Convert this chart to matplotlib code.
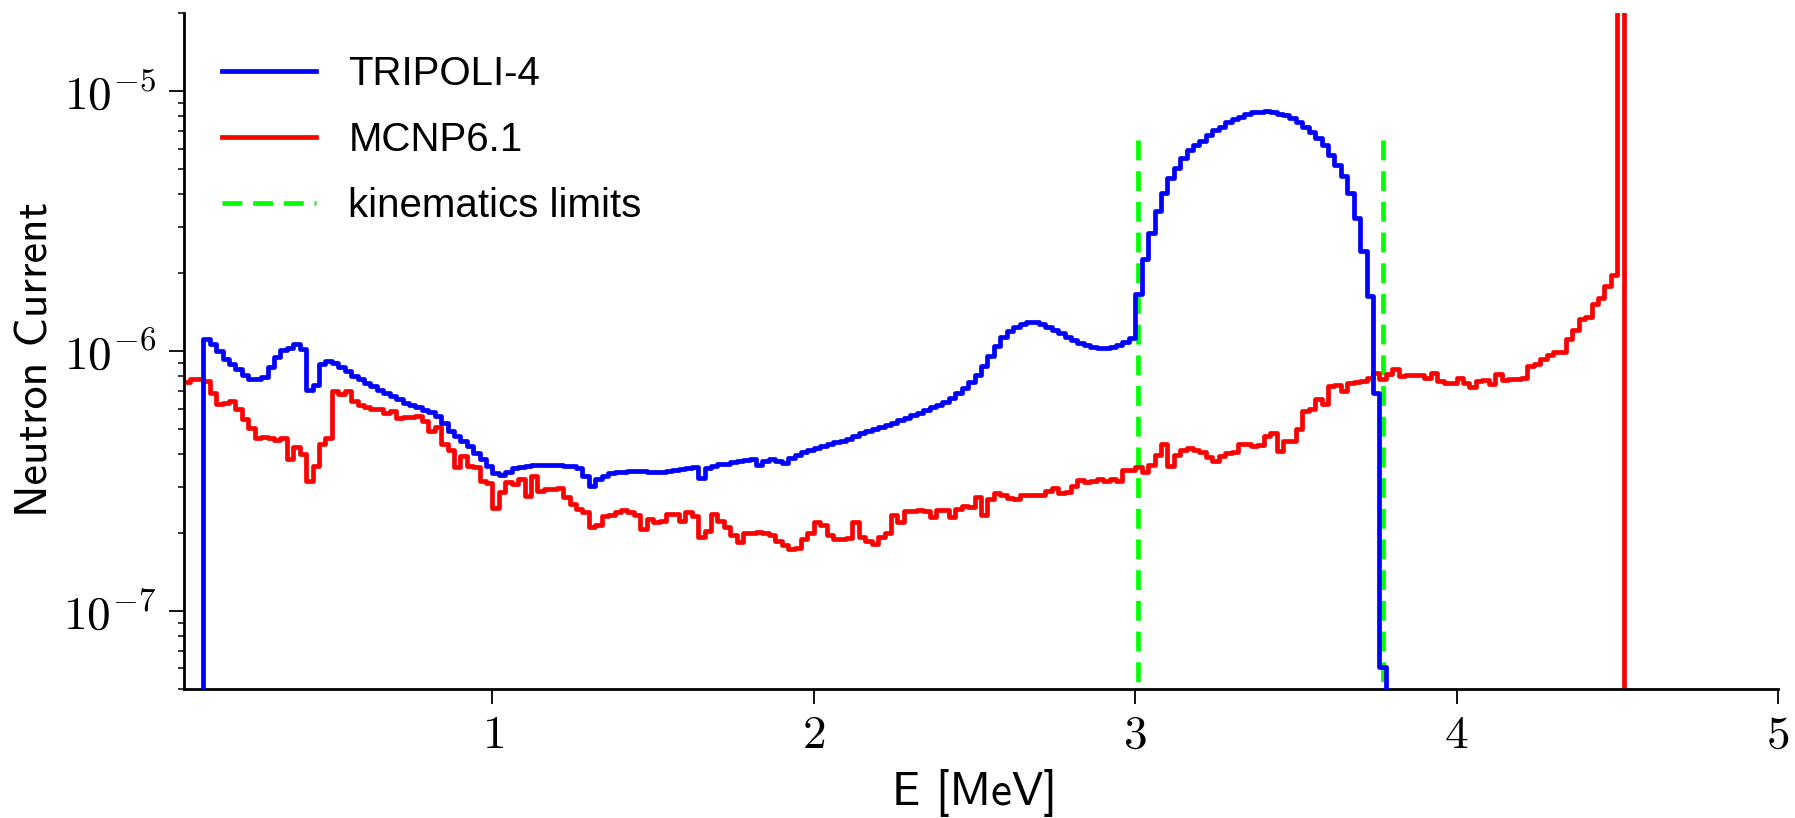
import numpy as np
import matplotlib.pyplot as plt
from matplotlib.ticker import FuncFormatter, LogLocator, NullFormatter

# Bin width of both tallies (MeV)
bin_width = 0.02

# TRIPOLI-4 neutron current, bins starting at 0.10 MeV (10 bins per row)
tripoli_start = 0.10
tripoli = [
    1.11e-6, 1.06e-6, 1.00e-6, 9.3e-7, 8.9e-7, 8.5e-7, 8.1e-7, 7.8e-7, 7.8e-7, 7.9e-7,
    8.7e-7, 9.5e-7, 1.01e-6, 1.03e-6, 1.06e-6, 1.02e-6, 7.1e-7, 7.4e-7, 8.9e-7, 9.1e-7,
    9.0e-7, 8.7e-7, 8.4e-7, 8.0e-7, 7.8e-7, 7.5e-7, 7.3e-7, 7.1e-7, 6.9e-7, 6.7e-7,
    6.5e-7, 6.3e-7, 6.2e-7, 6.1e-7, 5.9e-7, 5.8e-7, 5.6e-7, 5.3e-7, 4.9e-7, 4.7e-7,
    4.5e-7, 4.3e-7, 4.06e-7, 3.83e-7, 3.6e-7, 3.4e-7, 3.33e-7, 3.43e-7, 3.53e-7, 3.56e-7,
    3.6e-7, 3.63e-7, 3.63e-7, 3.63e-7, 3.63e-7, 3.63e-7, 3.6e-7, 3.6e-7, 3.55e-7, 3.3e-7,
    3.03e-7, 3.21e-7, 3.3e-7, 3.38e-7, 3.41e-7, 3.43e-7, 3.44e-7, 3.44e-7, 3.46e-7, 3.43e-7,
    3.41e-7, 3.41e-7, 3.46e-7, 3.49e-7, 3.51e-7, 3.54e-7, 3.56e-7, 3.24e-7, 3.54e-7, 3.6e-7,
    3.66e-7, 3.68e-7, 3.72e-7, 3.76e-7, 3.8e-7, 3.84e-7, 3.63e-7, 3.77e-7, 3.82e-7, 3.78e-7,
    3.7e-7, 3.86e-7, 3.98e-7, 4.08e-7, 4.16e-7, 4.24e-7, 4.31e-7, 4.37e-7, 4.44e-7, 4.51e-7,
    4.58e-7, 4.71e-7, 4.82e-7, 4.91e-7, 4.99e-7, 5.10e-7, 5.19e-7, 5.30e-7, 5.42e-7, 5.54e-7,
    5.67e-7, 5.79e-7, 5.93e-7, 6.07e-7, 6.21e-7, 6.38e-7, 6.59e-7, 6.91e-7, 7.22e-7, 7.59e-7,
    8.05e-7, 8.74e-7, 9.55e-7, 1.044e-6, 1.13e-6, 1.195e-6, 1.238e-6, 1.27e-6, 1.29e-6, 1.286e-6,
    1.268e-6, 1.238e-6, 1.202e-6, 1.167e-6, 1.13e-6, 1.097e-6, 1.072e-6, 1.05e-6, 1.034e-6, 1.028e-6,
    1.028e-6, 1.034e-6, 1.05e-6, 1.081e-6, 1.123e-6, 1.65e-6, 2.25e-6, 2.84e-6, 3.44e-6, 4.05e-6,
    4.62e-6, 5.05e-6, 5.51e-6, 5.94e-6, 6.20e-6, 6.40e-6, 6.78e-6, 7.08e-6, 7.29e-6, 7.56e-6,
    7.78e-6, 7.97e-6, 8.16e-6, 8.28e-6, 8.33e-6, 8.35e-6, 8.33e-6, 8.14e-6, 8.10e-6, 7.85e-6,
    7.62e-6, 7.29e-6, 6.98e-6, 6.58e-6, 6.20e-6, 5.68e-6, 5.20e-6, 4.69e-6, 4.05e-6, 3.24e-6,
    2.42e-6, 1.62e-6, 6.9e-7, 6.1e-8,
]

# MCNP6.1 neutron current, bins starting at 0.00 MeV (10 bins per row)
mcnp_start = 0.0
mcnp = [
    7.6e-7, 7.6e-7, 7.59e-7, 7.77e-7, 7.82e-7, 7.65e-7, 6.91e-7, 6.23e-7, 6.28e-7, 6.40e-7,
    5.95e-7, 5.46e-7, 5.06e-7, 4.64e-7, 4.67e-7, 4.60e-7, 4.55e-7, 4.60e-7, 3.83e-7, 4.25e-7,
    4.00e-7, 3.16e-7, 3.61e-7, 4.37e-7, 4.60e-7, 7.01e-7, 6.81e-7, 7.01e-7, 6.42e-7, 6.20e-7,
    6.10e-7, 6.00e-7, 5.95e-7, 5.79e-7, 5.87e-7, 5.54e-7, 5.57e-7, 5.58e-7, 5.62e-7, 5.38e-7,
    4.90e-7, 5.10e-7, 4.37e-7, 4.15e-7, 3.56e-7, 3.95e-7, 3.61e-7, 3.56e-7, 3.16e-7, 3.10e-7,
    2.48e-7, 2.86e-7, 3.12e-7, 3.07e-7, 3.21e-7, 2.77e-7, 3.31e-7, 2.90e-7, 2.94e-7, 2.95e-7,
    2.98e-7, 2.73e-7, 2.57e-7, 2.46e-7, 2.39e-7, 2.10e-7, 2.13e-7, 2.32e-7, 2.33e-7, 2.39e-7,
    2.44e-7, 2.40e-7, 2.33e-7, 2.06e-7, 2.25e-7, 2.19e-7, 2.22e-7, 2.36e-7, 2.36e-7, 2.22e-7,
    2.39e-7, 2.32e-7, 1.92e-7, 2.03e-7, 2.36e-7, 2.22e-7, 2.10e-7, 1.95e-7, 1.84e-7, 1.99e-7,
    2.00e-7, 2.01e-7, 1.99e-7, 1.95e-7, 1.86e-7, 1.79e-7, 1.73e-7, 1.75e-7, 1.89e-7, 2.00e-7,
    2.20e-7, 2.13e-7, 1.95e-7, 1.89e-7, 1.88e-7, 1.90e-7, 2.20e-7, 1.92e-7, 1.86e-7, 1.80e-7,
    1.92e-7, 2.00e-7, 2.33e-7, 2.19e-7, 2.43e-7, 2.43e-7, 2.44e-7, 2.43e-7, 2.29e-7, 2.44e-7,
    2.44e-7, 2.30e-7, 2.46e-7, 2.54e-7, 2.50e-7, 2.73e-7, 2.34e-7, 2.69e-7, 2.85e-7, 2.78e-7,
    2.71e-7, 2.69e-7, 2.78e-7, 2.79e-7, 2.79e-7, 2.78e-7, 2.89e-7, 2.96e-7, 2.85e-7, 2.86e-7,
    3.03e-7, 3.19e-7, 3.14e-7, 3.16e-7, 3.21e-7, 3.16e-7, 3.21e-7, 3.16e-7, 3.49e-7, 3.49e-7,
    3.58e-7, 3.42e-7, 3.65e-7, 3.97e-7, 4.38e-7, 3.62e-7, 3.99e-7, 4.15e-7, 4.21e-7, 4.15e-7,
    4.08e-7, 3.89e-7, 3.78e-7, 3.95e-7, 4.06e-7, 4.08e-7, 4.38e-7, 4.38e-7, 4.31e-7, 4.34e-7,
    4.71e-7, 4.85e-7, 4.12e-7, 4.51e-7, 4.51e-7, 5.00e-7, 5.87e-7, 5.98e-7, 6.52e-7, 6.23e-7,
    7.33e-7, 7.36e-7, 7.01e-7, 7.55e-7, 7.60e-7, 7.66e-7, 7.89e-7, 8.25e-7, 7.77e-7, 8.13e-7,
    8.49e-7, 8.00e-7, 8.05e-7, 8.05e-7, 8.05e-7, 7.89e-7, 8.20e-7, 7.66e-7, 7.50e-7, 7.50e-7,
    7.89e-7, 7.55e-7, 7.29e-7, 7.66e-7, 7.73e-7, 7.44e-7, 8.13e-7, 7.73e-7, 7.77e-7, 7.77e-7,
    7.89e-7, 8.75e-7, 8.88e-7, 9.28e-7, 9.61e-7, 9.90e-7, 9.90e-7, 1.106e-6, 1.20e-6, 1.33e-6,
    1.35e-6, 1.51e-6, 1.60e-6, 1.77e-6, 1.95e-6, 1.0e-4,
]

# Kinematics limits (MeV) and the height of the dashed markers
kin_limits = [3.008, 3.771]
kin_top = 6.5e-6


def histogram_line(start, values):
    # edges + zero padding so the step drops to the axis at both ends
    edges = start + bin_width * np.arange(len(values) + 1)
    x = np.concatenate([[edges[0]], edges])
    y = np.concatenate([[0.0], values, [0.0]])
    return x, y


plt.rcParams["mathtext.fontset"] = "cm"
lw = 3.4

fig = plt.figure(figsize=(17.95, 8.18), dpi=100)
ax = fig.add_axes([0.1025, 0.1577, 0.888, 0.8268])

green = None
for e in kin_limits:
    (green,) = ax.plot([e, e], [kin_top, 5e-8], color="#00ff00", lw=lw,
                       dashes=(4.2, 2.3), zorder=1)
x, y = histogram_line(mcnp_start, mcnp)
(red,) = ax.step(x, y, where="post", color="#ff0000", lw=lw, zorder=2)
x, y = histogram_line(tripoli_start, tripoli)
(blue,) = ax.step(x, y, where="post", color="#0000ff", lw=lw, zorder=3)

ax.set_yscale("log")
ax.set_xlim(0.04, 5)
ax.set_ylim(5e-8, 2e-5)

# Axes styling
for side in ["top", "right"]:
    ax.spines[side].set_visible(False)
for side in ["left", "bottom"]:
    ax.spines[side].set_linewidth(2.0)

ax.set_xticks([1, 2, 3, 4, 5])
ax.xaxis.set_major_formatter(FuncFormatter(lambda v, p: f"${v:g}$"))
ax.yaxis.set_major_locator(LogLocator(base=10, numticks=10))
ax.yaxis.set_major_formatter(
    FuncFormatter(lambda v, p: f"$10^{{{int(round(np.log10(v)))}}}$"))
ax.yaxis.set_minor_formatter(NullFormatter())
ax.tick_params(axis="both", which="major", direction="out", length=11,
               width=1.3, labelsize=34)
ax.tick_params(axis="x", which="major", pad=6)
ax.tick_params(axis="y", which="major", pad=9)
ax.tick_params(axis="y", which="minor", direction="out", length=4.5, width=1.1)

ax.set_xlabel("E [MeV]", family="cmss10", fontsize=34)
ax.set_ylabel("Neutron Current", family="cmss10", fontsize=33)
ax.yaxis.set_label_coords(-0.080, 0.488)
ax.xaxis.set_label_coords(0.496, -0.119)

ax.legend([blue, red, green], ["TRIPOLI-4", "MCNP6.1", "kinematics limits"],
          loc="upper left", bbox_to_anchor=(0.024, 0.938), frameon=False,
          borderaxespad=0, borderpad=0, handlelength=2.33, handletextpad=0.8,
          labelspacing=0.7, prop={"family": "Liberation Sans", "size": 29})

plt.savefig("out.png", dpi=100)
